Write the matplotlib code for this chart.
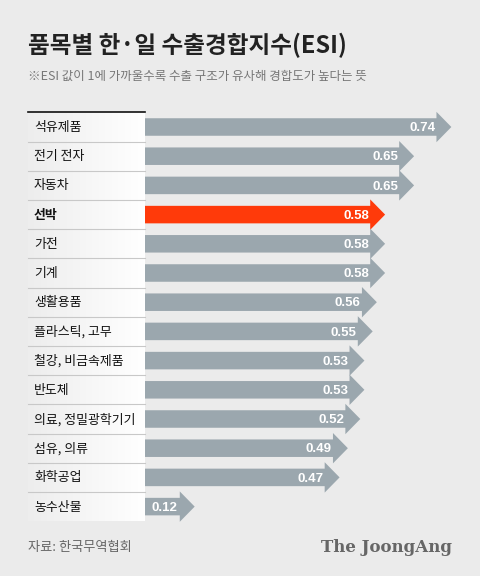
import numpy as np
import matplotlib.pyplot as plt
from matplotlib.patches import Polygon

plt.rcParams['font.family'] = ['Noto Sans CJK KR', 'DejaVu Sans']

items = ['석유제품', '전기 전자', '자동차', '선박', '가전', '기계', '생활용품',
         '플라스틱, 고무', '철강, 비금속제품', '반도체', '의료, 정밀광학기기',
         '섬유, 의류', '화학공업', '농수산물']
esi = [0.74, 0.65, 0.65, 0.58, 0.58, 0.58, 0.56, 0.55, 0.53, 0.53, 0.52, 0.49, 0.47, 0.12]
highlight = '선박'

bg = '#ebebeb'
fig = plt.figure(figsize=(4.8, 5.76), dpi=100, facecolor=bg)
ax = fig.add_axes([0, 0, 1, 1])
ax.set_facecolor(bg)
ppu = 414.0
row = 29.2
ax.set_xlim(-145 / ppu, (480 - 145) / ppu)
ax.set_ylim((576 - 127) / row, -127 / row)
ax.axis('off')

x0 = -117 / ppu
# label column with soft gradient
grad = np.linspace(0.93, 1.0, 100).reshape(1, -1)
ax.imshow(np.dstack([grad] * 3), extent=(x0, 0, 13.5, -0.5), aspect='auto', zorder=1)
ax.plot([x0, 0], [-0.5, -0.5], color='#111111', lw=1.2, zorder=3)
for i in range(1, 14):
    ax.plot([x0, 0], [i - 0.5, i - 0.5], color='#c8c8c8', lw=0.8, zorder=3)

hl = 0.036
for i, (name, v) in enumerate(zip(items, esi)):
    is_hl = name == highlight
    col = '#ff3a0a' if is_hl else '#9ba7ae'
    body = 0.3
    head = 0.52
    pts = [(0, i - body), (v - hl, i - body), (v - hl, i - head), (v, i),
           (v - hl, i + head), (v - hl, i + body), (0, i + body)]
    ax.add_patch(Polygon(pts, closed=True, color=col, lw=0, zorder=2))
    if v > 0.2:
        ax.text(v - hl - 0.003, i + 0.04, f'{v:.2f}', color='white', fontsize=9.5,
                ha='right', va='center', family='Liberation Sans', fontweight='bold', zorder=4)
    else:
        ax.text(0.015, i + 0.04, f'{v:.2f}', color='white', fontsize=9.5,
                ha='left', va='center', family='Liberation Sans', fontweight='bold', zorder=4)
    ax.text(x0 + 6 / ppu, i + 0.02, name, fontsize=9.3, ha='left', va='center',
            fontweight='bold' if is_hl else 'medium', color='#111111', zorder=4)

fig.text(28 / 480, 1 - 45 / 576, '품목별 한·일 수출경합지수(ESI)', fontsize=17,
         fontweight='bold', color='#222222', va='center')
fig.text(28 / 480, 1 - 76 / 576, '※ESI 값이 1에 가까울수록 수출 구조가 유사해 경합도가 높다는 뜻',
         fontsize=9, color='#777777', va='center')
fig.text(28 / 480, 1 - 548 / 576, '자료: 한국무역협회', fontsize=9.5, color='#666666', va='center')
fig.text(452 / 480, 1 - 548 / 576, 'The JoongAng', fontsize=12, fontweight='bold',
         family='DejaVu Serif', color='#666666', va='center', ha='right')

fig.savefig('out.png', dpi=100, facecolor=bg)
